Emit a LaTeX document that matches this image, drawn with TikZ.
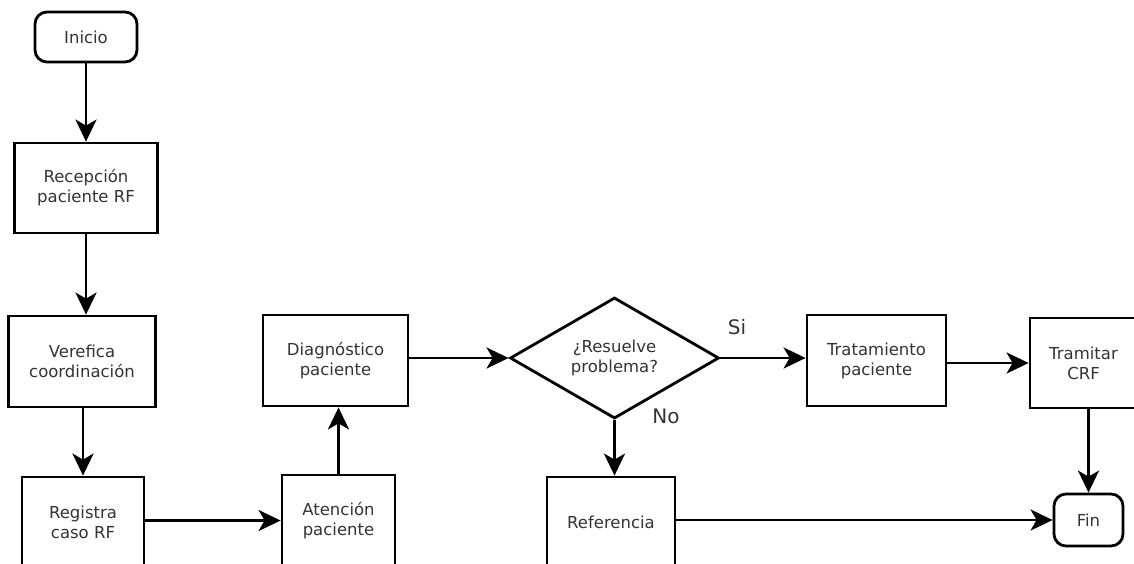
\documentclass[tikz,border=0pt]{standalone}
\usepackage{fontspec}
\setmainfont{DejaVu Sans}
\usetikzlibrary{arrows.meta,shapes.geometric}
\begin{document}
\begin{tikzpicture}[x=1pt,y=-1pt,
  every node/.style={text=black!80, font=\fontsize{16.5}{20}\selectfont, align=center},
  proc/.style={draw=black, line width=2.8pt, rectangle, inner sep=2pt},
  term/.style={draw=black, line width=2.8pt, rectangle, rounded corners=12pt, inner sep=2pt},
  decision/.style={draw=black, line width=2.8pt, diamond, aspect=1.73, inner sep=1pt,
                   minimum width=209pt, minimum height=121pt},
  flow/.style={line width=2.8pt, -{Stealth[length=22pt,width=21pt,inset=6pt]}},
  lbl/.style={font=\fontsize{20}{22}\selectfont}
]
\useasboundingbox (0,0) rectangle (1134,563);
\clip (0,0) rectangle (1134,563);
\fill[white] (0,0) rectangle (1134,563);

% start / end terminals
\node[term, minimum width=102pt, minimum height=50pt] (ini) at (86,37) {Inicio};
\node[term, minimum width=69pt, minimum height=52pt] (fin) at (1088.5,520) {Fin};

% process boxes
\node[proc, minimum width=143pt, minimum height=90pt] (rec) at (86,188) {Recepción\\paciente RF};
\node[proc, minimum width=147pt, minimum height=91pt] (ver) at (82,361.5) {Verefica\\coordinación};
\node[proc, minimum width=122pt, minimum height=91pt] (reg) at (83,522.5) {Registra\\caso RF};
\node[proc, minimum width=113pt, minimum height=91pt] (ate) at (338.5,520.5) {Atención\\paciente};
\node[proc, minimum width=145pt, minimum height=91pt] (dia) at (335.5,360.5) {Diagnóstico\\paciente};
\node[decision] (dec) at (614.5,358) {¿Resuelve\\problema?};
\node[proc, minimum width=139pt, minimum height=91pt] (tra) at (876.5,360.5) {Tratamiento\\paciente};
\node[proc, minimum width=107pt, minimum height=90pt] (trm) at (1083.5,363) {Tramitar\\CRF};
\node[proc, minimum width=128pt, minimum height=91pt] (ref) at (611,522.5) {Referencia};

% branch labels
\node[lbl] (si) at (737,327) {Si};
\node[lbl] (no) at (666,416) {No};

% connectors
\draw[flow] (ini.south) -- (ini.south |- rec.north);
\draw[flow] (rec.south) -- (rec.south |- ver.north);
\draw[flow] (ver.south -| reg.north) -- (reg.north);
\draw[flow] (reg.east |- ate.west) -- (ate.west);
\draw[flow] (ate.north) -- (ate.north |- dia.south);
\draw[flow] (dia.east |- dec.west) -- (dec.west);
\draw[flow] (dec.east) -- (dec.east -| tra.west);
\draw[flow] (tra.east |- trm.west) -- (trm.west);
\draw[flow] (fin.north |- trm.south) -- (fin.north);
\draw[flow] (dec.south) -- (dec.south |- ref.north);
\draw[flow] (ref.east |- fin.west) -- (fin.west);
\end{tikzpicture}
\end{document}
